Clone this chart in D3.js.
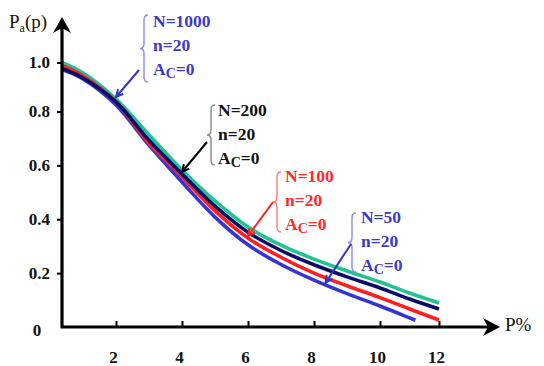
<!DOCTYPE html>
<html><head><meta charset="utf-8">
<script src="https://cdn.jsdelivr.net/npm/d3@7"></script>
<style>body{margin:0;background:#fff}svg{display:block}</style>
</head><body>
<svg id="c" width="544" height="366"></svg>
<script>
// ---- data ----
const pValues = [0.36, 1, 2, 3, 4, 5, 6, 7, 8, 9, 10, 11, 12];
const pValuesN50 = [0.36, 1, 2, 3, 4, 5, 6, 7, 8, 9, 10, 11, 11.2];
const paN1000 = [1.0, 0.957, 0.851, 0.713, 0.583, 0.468, 0.371, 0.304, 0.252, 0.208, 0.167, 0.126, 0.089];
const paN200  = [0.976, 0.937, 0.839, 0.693, 0.568, 0.449, 0.352, 0.284, 0.231, 0.186, 0.145, 0.104, 0.067];
const paN100  = [0.988, 0.945, 0.839, 0.682, 0.557, 0.431, 0.330, 0.259, 0.200, 0.153, 0.109, 0.067, 0.026];
const paN50   = [0.971, 0.933, 0.827, 0.675, 0.538, 0.408, 0.305, 0.232, 0.174, 0.124, 0.078, 0.034, 0.025];
const xTicks = [2, 4, 6, 8, 10, 12];
const yTicks = [0.2, 0.4, 0.6, 0.8, 1.0];
const seriesNames = ["N=1000", "N=200", "N=100", "N=50"];
const sampleN = ["n=20", "n=20", "n=20", "n=20"];
const acceptC = ["0", "0", "0", "0"];
const arrowP = [2.0, 4.0, 6.0, 8.35];

// ---- layout / style ----
const FONT = "'Liberation Serif', 'Times New Roman', serif";
const svg = d3.select("#c");
const x = d3.scaleLinear().domain([2, 10, 12]).range([116, 380, 439]);
const y = d3.scaleLinear().domain([0, 0.8, 1.0]).range([327, 111.5, 62.5]);

const series = [
  {p: pValues, v: paN1000, color: "#1fc293", text: "#3a3ac6", brace: "#8c8ce6", arrow: "#3333c8",
   tx: 153, ty: 27, bx: 144, by1: 15, by2: 82, ax: 139, ay: 70},
  {p: pValues, v: paN200, color: "#0c0c66", text: "#111111", brace: "#888888", arrow: "#000",
   tx: 218, ty: 116, bx: 211, by1: 105, by2: 165, ax: 207, ay: 142},
  {p: pValues, v: paN100, color: "#ff1f1f", text: "#ff2a2a", brace: "#ff7a7a", arrow: "#ff1f1f",
   tx: 285, ty: 182, bx: 277, by1: 172, by2: 232, ax: 273, ay: 202},
  {p: pValuesN50, v: paN50, color: "#3535d2", text: "#3a3ac6", brace: "#8c8ce6", arrow: "#3333c8",
   tx: 361, ty: 223, bx: 352, by1: 213, by2: 272, ax: 351, ay: 244}
];

// curves (draw order: N=50, N=1000, N=100, N=200)
const line = d3.line().x(d => x(d[0])).y(d => y(d[1])).curve(d3.curveCatmullRom.alpha(0.5));
[3, 0, 2, 1].forEach(i => {
  const s = series[i];
  const pts = s.p.map((p, k) => [p, s.v[k]]);
  svg.append("path").attr("d", line(pts)).attr("fill", "none")
    .attr("stroke", s.color).attr("stroke-width", 3.6);
});

// axes
const yAxis = d3.axisLeft(y).tickValues(yTicks).tickSize(5).tickPadding(7)
  .tickFormat(d3.format(".1f"));
const gy = svg.append("g").attr("transform", "translate(62,0)").call(yAxis);
gy.select(".domain").remove();
gy.selectAll("line").attr("stroke", "#000").attr("stroke-width", 2);
gy.selectAll("text").style("font-family", FONT).style("font-size", "17px")
  .style("font-weight", "bold").attr("fill", "#111");

const xAxis = d3.axisBottom(x).tickValues(xTicks).tickSize(-6).tickPadding(24)
  .tickFormat(d3.format("d"));
const gx = svg.append("g").attr("transform", "translate(0,327)").call(xAxis);
gx.select(".domain").remove();
gx.selectAll("line").attr("stroke", "#000").attr("stroke-width", 2);
gx.selectAll("text").style("font-family", FONT).style("font-size", "17px")
  .style("font-weight", "bold").attr("fill", "#111").attr("dx", -3);

svg.append("text").attr("x", 37).attr("y", 336).attr("text-anchor", "middle")
  .style("font-family", FONT).style("font-size", "17px").style("font-weight", "bold")
  .attr("fill", "#111").text("0");

// axis lines with arrowheads
svg.append("path").attr("d", "M62,327 L62,24 M60.5,327 L488,327")
  .attr("stroke", "#000").attr("stroke-width", 3.2).attr("fill", "none");
svg.append("path").attr("d", "M62,17 L71,33 L62,28 L53,33 Z").attr("fill", "#000");
svg.append("path").attr("d", "M500,327 L483,318 L488,327 L483,336 Z").attr("fill", "#000");

// axis titles
const yt = svg.append("text").attr("x", 9).attr("y", 28)
  .style("font-family", FONT).style("font-size", "19px").attr("fill", "#111");
yt.append("tspan").text("P");
yt.append("tspan").style("font-size", "12px").attr("dy", 4).text("a");
yt.append("tspan").attr("dy", -4).text("(p)");
svg.append("text").attr("x", 505).attr("y", 331)
  .style("font-family", FONT).style("font-size", "19px").attr("fill", "#111").text("P%");

// annotations
series.forEach((s, i) => {
  const g = svg.append("g");
  [seriesNames[i], sampleN[i]].forEach((t, k) => {
    g.append("text").attr("x", s.tx).attr("y", s.ty + k * 24)
      .style("font-family", FONT).style("font-size", "17.5px").style("font-weight", "bold")
      .attr("fill", s.text).text(t);
  });
  const ac = g.append("text").attr("x", s.tx).attr("y", s.ty + 48)
    .style("font-family", FONT).style("font-size", "17.5px").style("font-weight", "bold")
    .attr("fill", s.text);
  ac.append("tspan").text("A");
  ac.append("tspan").style("font-size", "14px").attr("dy", 3).text("C");
  ac.append("tspan").attr("dy", -3).text("=" + acceptC[i]);

  // brace
  const bx = s.bx, y1 = s.by1, y2 = s.by2, m = (y1 + y2) / 2, w = 4, r = 5;
  g.append("path")
    .attr("d", `M${bx + w},${y1} Q${bx},${y1} ${bx},${y1 + r} L${bx},${m - r} Q${bx},${m} ${bx - w},${m} Q${bx},${m} ${bx},${m + r} L${bx},${y2 - r} Q${bx},${y2} ${bx + w},${y2}`)
    .attr("fill", "none").attr("stroke", s.brace).attr("stroke-width", 1.4);

  // arrow to curve
  const interp = d3.scaleLinear().domain(s.p).range(s.v);
  const tx = x(arrowP[i]), ty = y(interp(arrowP[i])) - 2;
  const ang = Math.atan2(ty - s.ay, tx - s.ax);
  const hl = 8, ha = 0.45;
  g.append("path")
    .attr("d", `M${s.ax},${s.ay} L${tx},${ty} M${tx - hl * Math.cos(ang - ha)},${ty - hl * Math.sin(ang - ha)} L${tx},${ty} L${tx - hl * Math.cos(ang + ha)},${ty - hl * Math.sin(ang + ha)}`)
    .attr("fill", "none").attr("stroke", s.arrow).attr("stroke-width", 2);
});
</script>
</body></html>
